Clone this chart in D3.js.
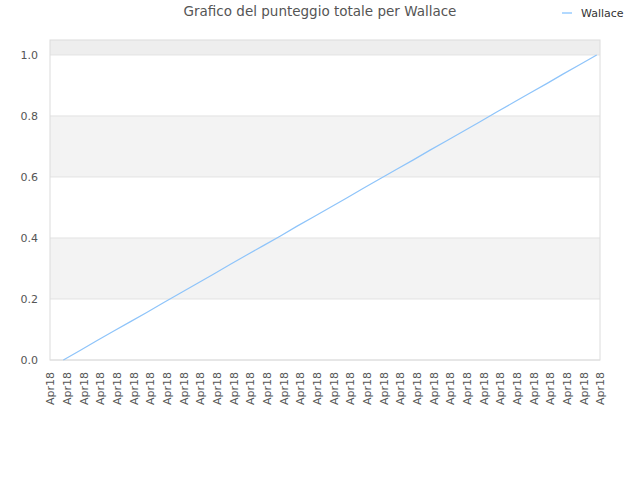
<!DOCTYPE html>
<html>
<head>
<meta charset="utf-8">
<script src="https://cdn.jsdelivr.net/npm/d3@7"></script>
<style>
  body { margin: 0; background: #fff; }
  text { font-family: "DejaVu Sans", sans-serif; }
</style>
</head>
<body>
<div id="chart"></div>
<script>
const seriesName = "Wallace";
const xLabels = Array(34).fill("Apr18");
const values = [null, 0, 0.031, 0.063, 0.094, 0.125, 0.156, 0.188, 0.219, 0.25,
  0.281, 0.313, 0.344, 0.375, 0.406, 0.438, 0.469, 0.5, 0.531, 0.563, 0.594,
  0.625, 0.656, 0.688, 0.719, 0.75, 0.781, 0.813, 0.844, 0.875, 0.906, 0.938,
  0.969, 1.0];
const yTicks = [0, 0.2, 0.4, 0.6, 0.8, 1.0];

const width = 640, height = 480;
const margin = { top: 40, right: 40, bottom: 120, left: 50 };
const plotW = width - margin.left - margin.right;
const plotH = height - margin.top - margin.bottom;

const svg = d3.select("#chart").append("svg")
  .attr("width", width)
  .attr("height", height);

// title
svg.append("text")
  .attr("x", width / 2)
  .attr("y", 16)
  .attr("text-anchor", "middle")
  .attr("font-size", "13.5px")
  .attr("fill", "#555")
  .text("Grafico del punteggio totale per " + seriesName);

// legend
svg.append("line")
  .attr("x1", 562).attr("x2", 572)
  .attr("y1", 13).attr("y2", 13)
  .attr("stroke", "#99ccff").attr("stroke-width", 1.5);
svg.append("text")
  .attr("x", 581).attr("y", 17)
  .attr("font-size", "11px")
  .attr("fill", "#333")
  .text(seriesName);

const g = svg.append("g")
  .attr("transform", `translate(${margin.left},${margin.top})`);

const yScale = d3.scaleLinear().domain([0, 1.049]).range([plotH, 0]);
const xScale = d3.scalePoint()
  .domain(d3.range(xLabels.length))
  .range([-3.3, plotW - 3.3]);

// alternating bands
const bands = [
  { y0: 0.2, y1: 0.4, fill: "#f3f3f3" },
  { y0: 0.6, y1: 0.8, fill: "#f3f3f3" },
  { y0: 1.0, y1: 1.049, fill: "#eeeeee" }
];
g.selectAll(".band")
  .data(bands)
  .enter()
  .append("rect")
  .attr("class", "band")
  .attr("x", 0)
  .attr("width", plotW)
  .attr("y", (d) => yScale(d.y1))
  .attr("height", (d) => yScale(d.y0) - yScale(d.y1))
  .attr("fill", (d) => d.fill);

// grid lines
g.selectAll(".grid")
  .data(yTicks)
  .enter()
  .append("line")
  .attr("x1", 0).attr("x2", plotW)
  .attr("y1", (d) => yScale(d)).attr("y2", (d) => yScale(d))
  .attr("stroke", "#e2e2e2");

// frame
g.append("rect")
  .attr("width", plotW).attr("height", plotH)
  .attr("fill", "none")
  .attr("stroke", "#dcdcdc");

// y axis
const yAxis = g.append("g")
  .call(d3.axisLeft(yScale).tickValues(yTicks).tickFormat(d3.format(".1f")).tickSize(0).tickPadding(12));
yAxis.select(".domain").remove();
yAxis.selectAll("text").attr("font-size", "11px").attr("fill", "#555")
  .attr("font-family", "DejaVu Sans, sans-serif");

// x axis
const xAxis = g.append("g")
  .attr("transform", `translate(0,${plotH})`)
  .call(d3.axisBottom(xScale).tickFormat((i) => xLabels[i]).tickSize(0));
xAxis.select(".domain").remove();
xAxis.selectAll("text")
  .attr("font-size", "11px")
  .attr("fill", "#555")
  .attr("font-family", "DejaVu Sans, sans-serif")
  .attr("text-anchor", "end")
  .attr("transform", "translate(3.3,0) rotate(-90)")
  .attr("x", -12)
  .attr("y", 0)
  .attr("dy", "0.35em");

// series line
const line = d3.line()
  .defined((d) => d != null)
  .x((d, i) => xScale(i))
  .y((d) => yScale(d));

g.append("path")
  .datum(values)
  .attr("fill", "none")
  .attr("stroke", "#8ec4fa")
  .attr("stroke-width", 1.2)
  .attr("d", line);
</script>
</body>
</html>
